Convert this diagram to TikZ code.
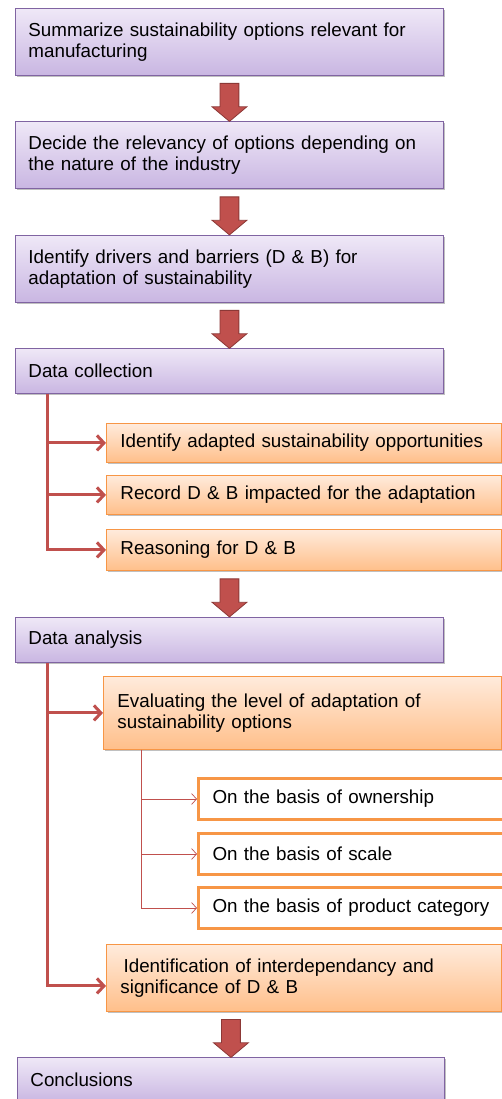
\documentclass[tikz,border=0pt]{standalone}
\usepackage{fontspec}
\setmainfont{Liberation Sans}
\usetikzlibrary{positioning,calc,shadows,shapes.arrows,arrows.meta}
\definecolor{stageline}{HTML}{8064A2}
\definecolor{stagetop}{HTML}{EFE8F7}
\definecolor{stagebot}{HTML}{C9B6E2}
\definecolor{optline}{HTML}{F79646}
\definecolor{opttop}{HTML}{FFEBDC}
\definecolor{optbot}{HTML}{FFBF8A}
\definecolor{linkred}{HTML}{C0504D}
\definecolor{linkdark}{HTML}{8C3836}
\tikzset{
  boxshadow/.style={drop shadow={shadow xshift=1.5pt,shadow yshift=-2pt,opacity=.35,fill=black!70}},
  stagebox/.style={draw=stageline,line width=0.9pt,top color=stagetop,bottom color=stagebot,
    boxshadow,anchor=north west,text width=402pt,inner xsep=13pt,align=left,
    font=\fontsize{18.8}{21}\selectfont},
  optbox/.style={draw=optline,line width=0.9pt,top color=opttop,bottom color=optbot,
    boxshadow,anchor=north west,text width=367pt,inner xsep=14pt,align=left,
    font=\fontsize{18.8}{21}\selectfont},
  subbox/.style={draw=optline,line width=3pt,fill=white,anchor=north west,
    text width=280pt,inner xsep=14pt,align=left,minimum height=41pt,
    font=\fontsize{18.8}{21}\selectfont},
  blockarrow/.style={single arrow,rotate=-90,draw=linkdark,fill=linkred,line width=0.8pt,
    minimum height=38pt,inner xsep=0pt,inner ysep=9pt,single arrow head extend=8pt,
    single arrow tip angle=100},
  branch/.style={linkred,line width=3pt,-{Straight Barb[length=7pt,width=15pt]}},
  twig/.style={linkred,line width=0.7pt,-{Straight Barb[length=5pt,width=11pt]}}
}
\begin{document}
\begin{tikzpicture}[x=1pt,y=-1pt]
  \useasboundingbox[fill=white] (0,0) rectangle (502,1099);
  % main stages
  \node[stagebox,minimum height=67pt] (sum) at (15,8)
    {Summarize sustainability options relevant for\\manufacturing};
  \node[stagebox,minimum height=67pt] (rel) at (15,121)
    {Decide the relevancy of options depending on\\the nature of the industry};
  \node[stagebox,minimum height=67pt] (db) at (15,235)
    {Identify drivers and barriers (D \& B) for\\adaptation of sustainability};
  \node[stagebox,minimum height=45pt] (coll) at (15,348) {Data collection};
  \node[optbox,minimum height=39pt] (opp) at (106,423)
    {Identify adapted sustainability opportunities};
  \node[optbox,minimum height=39pt] (rec) at (106,475)
    {Record D \& B impacted for the adaptation};
  \node[optbox,minimum height=41pt] (why) at (106,529) {Reasoning for D \& B};
  \node[stagebox,minimum height=45pt] (ana) at (15,617) {Data analysis};
  \node[optbox,minimum height=73pt,text width=370pt] (eval) at (103,676)
    {Evaluating the level of adaptation of\\sustainability options};
  \node[subbox] (own) at (197,777) {On the basis of ownership};
  \node[subbox] (scl) at (197,832) {On the basis of scale};
  \node[subbox] (cat) at (197,886) {On the basis of product category};
  \node[optbox,minimum height=67pt] (intr) at (106,944)
    {\,Identification of interdependancy and\\significance of D \& B};
  \node[stagebox,minimum height=45pt,text width=401pt] (conc) at (17,1057) {Conclusions};

  % block arrows
  \node[blockarrow] (a1) at ($(sum.south)!.5!(rel.north)$) {};
  \node[blockarrow] (a2) at ($(rel.south)!.5!(db.north)$) {};
  \node[blockarrow] (a3) at ($(db.south)!.5!(coll.north)$) {};
  \node[blockarrow] (a4) at ($(why.south -| ana.north)!.5!(ana.north)$) {};
  \node[blockarrow] (a5) at ($(intr.south -| conc.north)!.5!(conc.north)$) {};

  % branches
  \begin{scope}
    \draw[branch] ([xshift=32pt]coll.south west) |- (opp.west);
    \draw[branch] ([xshift=32pt]coll.south west) |- (rec.west);
    \draw[branch] ([xshift=32pt]coll.south west) |- (why.west);
    \draw[branch] ([xshift=32pt]ana.south west) |- (eval.west);
    \draw[branch] ([xshift=32pt]ana.south west) |- ([yshift=-8pt]intr.west);
    \draw[twig] ([xshift=38pt]eval.south west) |- (own.west);
    \draw[twig] ([xshift=38pt]eval.south west) |- (scl.west);
    \draw[twig] ([xshift=38pt]eval.south west) |- (cat.west);
  \end{scope}
\end{tikzpicture}
\end{document}
